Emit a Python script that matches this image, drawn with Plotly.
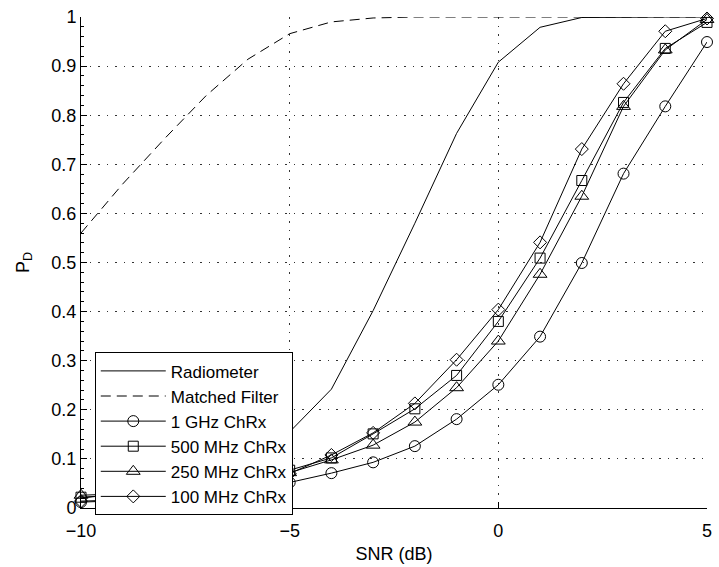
import plotly.graph_objects as go

snr = [-10, -9, -8, -7, -6, -5, -4, -3, -2, -1, 0, 1, 2, 3, 4, 5]

radiometer = [0.02, 0.03, 0.045, 0.07, 0.10, 0.155, 0.242, 0.402, 0.58, 0.763, 0.908, 0.979, 0.999, 1.0, 1.0, 1.0]
matched_filter = [0.56, 0.66, 0.752, 0.84, 0.914, 0.966, 0.99, 0.998, 1.0, 1.0, 1.0, 1.0, 1.0, 1.0, 1.0, 1.0]
chrx_1ghz = [0.012, 0.015, 0.018, 0.024, 0.034, 0.052, 0.071, 0.093, 0.126, 0.181, 0.251, 0.349, 0.499, 0.681, 0.818, 0.949]
chrx_500mhz = [0.022, 0.027, 0.034, 0.044, 0.058, 0.077, 0.102, 0.151, 0.202, 0.27, 0.38, 0.509, 0.667, 0.826, 0.936, 0.989]
chrx_250mhz = [0.026, 0.029, 0.035, 0.043, 0.055, 0.072, 0.098, 0.128, 0.175, 0.245, 0.34, 0.476, 0.635, 0.818, 0.933, 0.995]
chrx_100mhz = [0.014, 0.016, 0.019, 0.025, 0.042, 0.07, 0.108, 0.153, 0.213, 0.302, 0.404, 0.541, 0.731, 0.864, 0.971, 0.997]

x_ticks = [-10, -5, 0, 5]
x_ticktext = ["\u221210", "\u22125", "0", "5"]
y_ticks = [0, 0.1, 0.2, 0.3, 0.4, 0.5, 0.6, 0.7, 0.8, 0.9, 1.0]
y_ticktext = ["0", "0.1", "0.2", "0.3", "0.4", "0.5", "0.6", "0.7", "0.8", "0.9", "1"]

FONT = "Liberation Sans, Arial, Helvetica, sans-serif"

fig = go.Figure()
fig.add_trace(go.Scatter(x=snr, y=radiometer, mode="lines", name="Radiometer",
                         line=dict(color="black", width=1), cliponaxis=False))
fig.add_trace(go.Scatter(x=snr, y=matched_filter, mode="lines", name="Matched Filter",
                         line=dict(color="black", width=1, dash="10px,6px"), cliponaxis=False))

series = [
    ("1 GHz ChRx", chrx_1ghz, "circle-open", 11),
    ("500 MHz ChRx", chrx_500mhz, "square-open", 10),
    ("250 MHz ChRx", chrx_250mhz, "triangle-up-open", 12),
    ("100 MHz ChRx", chrx_100mhz, "diamond-open", 10),
]
for name, vals, sym, size in series:
    fig.add_trace(go.Scatter(x=snr, y=vals, mode="lines+markers", name=name,
                             line=dict(color="black", width=1),
                             marker=dict(symbol=sym, size=size, color="black",
                                         line=dict(color="black", width=1)),
                             cliponaxis=False))

fig.update_layout(
    width=719, height=567, autosize=False,
    margin=dict(l=81, r=7, t=15, b=53),
    paper_bgcolor="white", plot_bgcolor="white",
    font=dict(family=FONT, size=18, color="black"),
    showlegend=True,
    legend=dict(x=0.022, y=0.317, xanchor="left", yanchor="top",
                bgcolor="white", bordercolor="black", borderwidth=1,
                font=dict(family=FONT, size=17, color="black"),
                tracegroupgap=0, itemwidth=65),
)
fig.update_xaxes(
    range=[-10, 5], tickmode="array", tickvals=x_ticks, ticktext=x_ticktext,
    showline=True, linecolor="black", linewidth=1, mirror=False,
    ticks="inside", ticklen=6, tickcolor="black", ticklabelstandoff=6,
    showgrid=True, gridcolor="#333", gridwidth=1, griddash="1.5px,7px",
    zeroline=False,
    title=dict(text="SNR (dB)", font=dict(family=FONT, size=18), standoff=7),
    tickfont=dict(family=FONT, size=18),
)
fig.update_yaxes(
    range=[0, 1], tickmode="array", tickvals=y_ticks, ticktext=y_ticktext,
    showline=True, linecolor="black", linewidth=1, mirror=False,
    ticks="inside", ticklen=6, tickcolor="black",
    minor=dict(dtick=0.02, ticks="inside", ticklen=3, tickcolor="black", showgrid=False),
    showgrid=True, gridcolor="#333", gridwidth=1, griddash="1.5px,7px",
    zeroline=False,
    title=dict(text="P<sub>D</sub>", font=dict(family=FONT, size=18), standoff=17),
    tickfont=dict(family=FONT, size=18),
)

fig.write_html("out.html", config={"displayModeBar": False},
               post_script="document.body.style.margin='0px';")
